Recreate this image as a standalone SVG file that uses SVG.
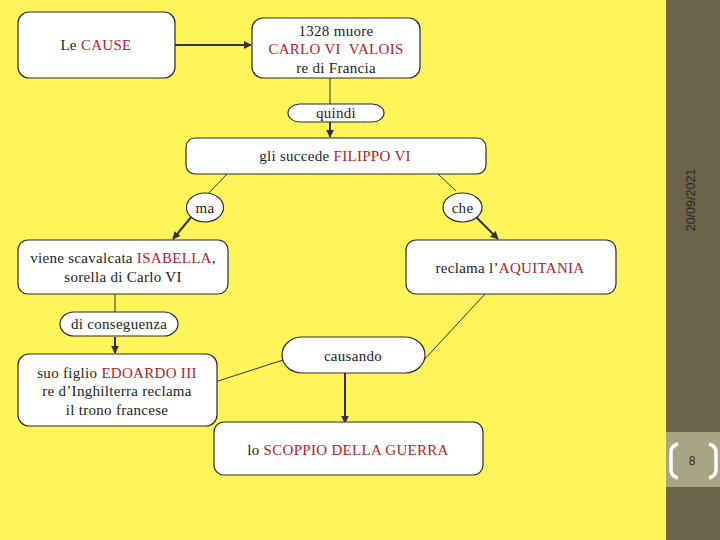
<svg xmlns="http://www.w3.org/2000/svg" width="720" height="540" viewBox="0 0 720 540">
<style>
.box{fill:#fff;stroke:#2b2b2b;stroke-width:1.2}
.t{font-family:"Liberation Serif","Times New Roman",serif;font-size:15px;fill:#222;text-anchor:middle;letter-spacing:0.3px}
.r{fill:#b3202c}
.thin{stroke:#333;stroke-width:1;fill:none}
.thick{stroke:#333;stroke-width:2;fill:none;marker-end:url(#ah)}
</style>
<defs>
<marker id="ah" viewBox="0 0 10 10" refX="9" refY="5" markerWidth="4" markerHeight="4" orient="auto" markerUnits="strokeWidth">
<path d="M0,0 L10,5 L0,10 z" fill="#333"/>
</marker>
</defs>
<rect width="720" height="540" fill="#fff55a"/>
<g id="panel">
<rect x="666" y="0" width="54" height="540" fill="#6b634a"/>
<rect x="666" y="432" width="54" height="55" fill="#a9a584"/>
<path d="M678,444 Q671,446 671,452 L671,470 Q671,476 678,478" stroke="#fff" stroke-width="3.5" fill="none"/>
<path d="M709,444 Q716,446 716,452 L716,470 Q716,476 709,478" stroke="#fff" stroke-width="3.5" fill="none"/>
<text x="692" y="465" font-family="Liberation Sans,Arial,sans-serif" font-size="12" fill="#2a2a1e" text-anchor="middle">8</text>
<text transform="translate(695,200) rotate(-90)" font-family="Liberation Sans,Arial,sans-serif" font-size="12.5" fill="#2a281c" text-anchor="middle">20/09/2021</text>
</g>
<g id="connectors">
<line class="thick" x1="175" y1="45" x2="251" y2="45"/>
<line class="thin" x1="330" y1="78" x2="330" y2="104"/>
<line class="thick" x1="330" y1="122" x2="330" y2="137"/>
<line class="thin" x1="227" y1="174" x2="209" y2="193"/>
<line class="thin" x1="438" y1="174" x2="456" y2="191"/>
<line class="thick" x1="192" y1="216" x2="173" y2="239"/>
<line class="thick" x1="474" y1="215" x2="498" y2="239"/>
<line class="thin" x1="115" y1="294" x2="115" y2="312"/>
<line class="thick" x1="115" y1="337" x2="115" y2="353"/>
<line class="thin" x1="485" y1="294" x2="422" y2="362"/>
<line class="thin" x1="283" y1="360" x2="215" y2="382"/>
<line class="thick" x1="345" y1="373" x2="345" y2="423"/>
</g>
<g id="n-cause">
<rect class="box" x="18" y="12" width="157" height="66" rx="11"/>
<text class="t" x="96" y="50">Le <tspan class="r">CAUSE</tspan></text>
</g>
<g id="n-carlo">
<rect class="box" x="252" y="18" width="168" height="60" rx="11"/>
<text class="t" x="336" y="36">1328 muore</text>
<text class="t r" x="336" y="54">CARLO VI&#160; VALOIS</text>
<text class="t" x="336" y="73">re di Francia</text>
</g>
<g id="n-quindi">
<rect class="box" x="288" y="104" width="96" height="18" rx="12" ry="9"/>
<text class="t" x="336" y="118">quindi</text>
</g>
<g id="n-filippo">
<rect class="box" x="186" y="138" width="300" height="36" rx="9"/>
<text class="t" x="335" y="161">gli succede <tspan class="r">FILIPPO VI</tspan></text>
</g>
<g id="n-ma">
<ellipse class="box" cx="205" cy="207.5" rx="18.5" ry="14.5"/>
<text class="t" x="205" y="213" letter-spacing="2">ma</text>
</g>
<g id="n-che">
<ellipse class="box" cx="462.5" cy="207.5" rx="19.5" ry="14.5"/>
<text class="t" x="462.5" y="213">che</text>
</g>
<g id="n-isabella">
<rect class="box" x="18" y="240" width="210" height="54" rx="10"/>
<text class="t" x="123" y="263">viene scavalcata <tspan class="r">ISABELLA</tspan>,</text>
<text class="t" x="123" y="282">sorella di Carlo VI</text>
</g>
<g id="n-aquitania">
<rect class="box" x="406" y="240" width="210" height="54" rx="10"/>
<text class="t" x="510" y="273">reclama l’<tspan class="r">AQUITANIA</tspan></text>
</g>
<g id="n-conseguenza">
<rect class="box" x="60" y="312" width="118" height="24" rx="14" ry="12"/>
<text class="t" x="119" y="329">di conseguenza</text>
</g>
<g id="n-edoardo">
<rect class="box" x="18" y="354" width="199" height="72" rx="11"/>
<text class="t" x="117" y="378">suo figlio <tspan class="r">EDOARDO III</tspan></text>
<text class="t" x="117" y="396">re d’Inghilterra reclama</text>
<text class="t" x="117" y="415">il trono francese</text>
</g>
<g id="n-causando">
<rect class="box" x="282" y="337" width="143" height="36" rx="20" ry="18"/>
<text class="t" x="353" y="361">causando</text>
</g>
<g id="n-guerra">
<rect class="box" x="214" y="422" width="269" height="53" rx="10"/>
<text class="t" x="348" y="455">lo <tspan class="r">SCOPPIO DELLA GUERRA</tspan></text>
</g>
</svg>
